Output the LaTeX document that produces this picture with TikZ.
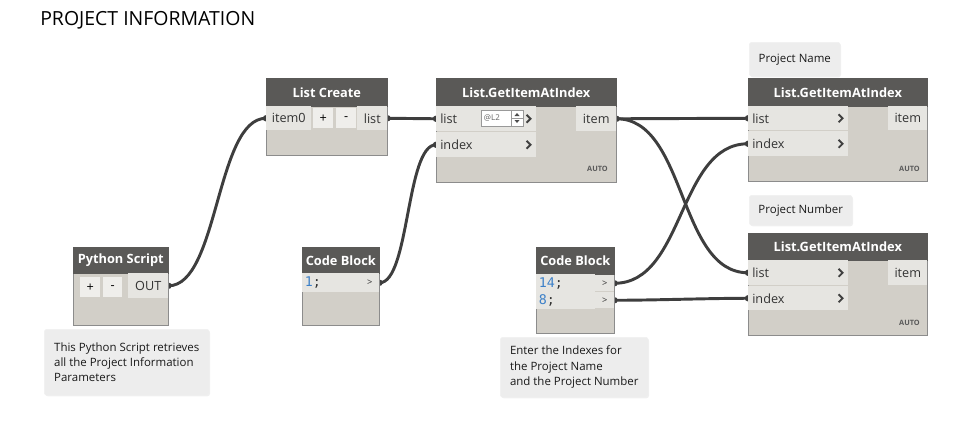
\documentclass[tikz,border=0pt]{standalone}
\usepackage{fontspec}
\setmainfont{Open Sans}
\setmonofont{DejaVu Sans Mono}
\usetikzlibrary{positioning,calc,backgrounds,shadows}

\definecolor{headc}{HTML}{5A5957}
\definecolor{bodyc}{HTML}{D2CFC8}
\definecolor{cellc}{HTML}{E6E5E1}
\definecolor{btnc}{HTML}{EFEEEB}
\definecolor{wirec}{HTML}{3E3E3E}
\definecolor{notec}{HTML}{EDEDED}
\definecolor{numc}{HTML}{3C80C8}

\def\pxu{0.75pt}
\newcommand{\dynhead}{\fontsize{9.6}{11}\selectfont\bfseries}
\newcommand{\dynport}{\fontsize{9.5}{11}\selectfont}
\newcommand{\dynnote}{\fontsize{8.6}{11.5}\selectfont}
\newcommand{\dyncode}{\ttfamily\fontsize{10}{12.75}\selectfont}

\tikzset{
  body/.style={fill=bodyc, draw=black!45, line width=0.4pt, anchor=north west, inner sep=0pt},
  head/.style={fill=headc, draw=headc, text=white, anchor=north west, inner sep=0pt, font=\dynhead},
  port/.style={fill=cellc, anchor=north west, inner sep=0pt, font=\dynport, text=black!80},
  btn/.style={fill=btnc, anchor=north west, inner sep=0pt, minimum width=20*\pxu, minimum height=20*\pxu, font=\dynport},
  ptext/.style={anchor=west, inner sep=0pt, font=\dynport, text=black!80},
  chev/.style={draw=black!75, line width=1.4pt},
  note/.style={fill=notec, draw=black!6, rounded corners=2pt, anchor=north west, align=left,
    inner sep=0pt, font=\dynnote, text=black!90,
    drop shadow={opacity=0.12, shadow xshift=0.6pt, shadow yshift=-0.8pt}},
  autotag/.style={anchor=east, inner sep=0pt, font=\bfseries\fontsize{5.5}{6}\selectfont, text=black!65},
  wire/.style={draw=wirec, line width=2.2pt}
}

% input row of a GetItemAtIndex node: name, x, y, height, text
\newcommand{\inport}[5]{%
  \node[port, minimum width=100*\pxu, minimum height=#4*\pxu] (#1) at (#2,#3) {};
  \node[ptext, xshift=3pt] (#1-t) at (#1.west) {#5};
  \draw[chev] ($(#1.east)+(-10,-4)$) -- ++(4,4) -- ++(-4,4);
}

\begin{document}
\begin{tikzpicture}[x=0.75pt,y=-0.75pt]
\useasboundingbox (0,0) rectangle (962,422);

\node[anchor=west, inner sep=0pt, font=\fontsize{14.6}{16}\selectfont] (title) at (40,20) {PROJECT INFORMATION};

% Python Script
\node[body, minimum width=95*\pxu, minimum height=78*\pxu] (py) at (73,247) {};
\node[head, minimum width=95*\pxu, minimum height=26*\pxu] (py-h) at (py.north west) {Python Script};
\node[btn] (py-add) at (80,277) {+};
\node[btn, minimum width=19*\pxu] (py-rem) at (103,277) {-};
\node[port, minimum width=40*\pxu, minimum height=25*\pxu] (py-out) at (128,273) {OUT};
\node[note, minimum width=165*\pxu, minimum height=66*\pxu] (py-note) at (44,329)
  {This Python Script retrieves\\all the Project Information\\Parameters};

% List Create
\node[body, minimum width=121*\pxu, minimum height=77*\pxu] (lc) at (266,78) {};
\node[head, minimum width=121*\pxu, minimum height=28*\pxu] (lc-h) at (lc.north west) {List Create};
\node[port, minimum width=45*\pxu, minimum height=24*\pxu] (lc-in) at (266,106) {item0};
\node[btn] (lc-add) at (313,108) {+};
\node[btn] (lc-rem) at (336,108) {-};
\node[port, minimum width=30*\pxu, minimum height=24*\pxu] (lc-out) at (357,106) {list};

% Code Block 1
\node[body, minimum width=77*\pxu, minimum height=78*\pxu] (cb1) at (302,247) {};
\node[head, minimum width=77*\pxu, minimum height=26*\pxu] (cb1-h) at (cb1.north west) {Code Block};
\node[port, minimum width=58*\pxu, minimum height=19*\pxu] (cb1-code) at (302,273) {};
\node[ptext, font=\dyncode, xshift=2pt] (cb1-t) at (cb1-code.west) {\textcolor{numc}{1};};
\node[port, minimum width=19*\pxu, minimum height=19*\pxu, font=\fontsize{7}{8}\selectfont] (cb1-out) at (360,273) {>};

% middle GetItemAtIndex
\node[body, minimum width=180*\pxu, minimum height=104*\pxu] (gi) at (436,78) {};
\node[head, minimum width=180*\pxu, minimum height=28*\pxu] (gi-h) at (gi.north west) {List.GetItemAtIndex};
\inport{gi-list}{436}{106}{25}{list}
\inport{gi-idx}{436}{132}{25}{index}
\node[port, minimum width=40*\pxu, minimum height=25*\pxu] (gi-out) at (576,106) {item};
\node[autotag] (gi-auto) at (608,169) {AUTO};
\node[anchor=north west, draw=black!40, fill=white, minimum width=42*\pxu, minimum height=16*\pxu, inner sep=0pt] (gi-lvl) at (481,110) {};
\node[anchor=west, inner sep=0pt, xshift=2pt, font=\fontsize{6}{7}\selectfont, text=black!60] (gi-lvl-t) at (gi-lvl.west) {@L2};
\draw[black!40] (511,110) -- (511,126) (511,118) -- (523,118);
\fill[black!70] (514.5,116) -- (519.5,116) -- (517,113) -- cycle (514.5,120) -- (519.5,120) -- (517,123) -- cycle;

% Code Block 2
\node[body, minimum width=78*\pxu, minimum height=86*\pxu] (cb2) at (536,247) {};
\node[head, minimum width=78*\pxu, minimum height=27*\pxu] (cb2-h) at (cb2.north west) {Code Block};
\node[port, minimum width=59*\pxu, minimum height=35*\pxu] (cb2-code) at (536,274) {};
\node[ptext, font=\dyncode, align=left, xshift=2pt] (cb2-t) at (cb2-code.west)
  {\textcolor{numc}{14};\\\textcolor{numc}{8};};
\node[port, minimum width=19*\pxu, minimum height=16*\pxu, font=\fontsize{7}{8}\selectfont] (cb2-o1) at (595,275) {>};
\node[port, minimum width=19*\pxu, minimum height=16*\pxu, font=\fontsize{7}{8}\selectfont] (cb2-o2) at (595,292) {>};
\node[note, minimum width=148*\pxu, minimum height=60*\pxu] (cb2-note) at (500,337)
  {Enter the Indexes for\\the Project Name\\and the Project Number};

% Project Name
\node[note, minimum width=91*\pxu, minimum height=34*\pxu] (gn-note) at (749,42) {Project Name};
\node[body, minimum width=179*\pxu, minimum height=103*\pxu] (gn) at (748,78) {};
\node[head, minimum width=179*\pxu, minimum height=28*\pxu] (gn-h) at (gn.north west) {List.GetItemAtIndex};
\inport{gn-list}{748}{106}{24}{list}
\inport{gn-idx}{748}{131}{25}{index}
\node[port, minimum width=39*\pxu, minimum height=24*\pxu] (gn-out) at (888,106) {item};
\node[autotag] (gn-auto) at (920,169) {AUTO};

% Project Number
\node[note, minimum width=103*\pxu, minimum height=30*\pxu] (gb-note) at (749,195) {Project Number};
\node[body, minimum width=179*\pxu, minimum height=102*\pxu] (gb) at (748,233) {};
\node[head, minimum width=179*\pxu, minimum height=27*\pxu] (gb-h) at (gb.north west) {List.GetItemAtIndex};
\inport{gb-list}{748}{260}{25}{list}
\inport{gb-idx}{748}{286}{24}{index}
\node[port, minimum width=39*\pxu, minimum height=25*\pxu] (gb-out) at (888,260) {item};
\node[autotag] (gb-auto) at (920,323) {AUTO};

% wires
\begin{scope}[on background layer]
\draw[wire] (py-out.east) .. controls +(50,0) and +(-50,0) .. (lc-in.west);
\draw[wire] (lc-out.east) -- (gi-list.west);
\draw[wire] (cb1-out.east) .. controls +(30,0) and +(-30,0) .. (gi-idx.west);
\draw[wire] (gi-out.east) -- (gn-list.west);
\draw[wire] (gi-out.east) .. controls +(70,0) and +(-70,0) .. (gb-list.west);
\draw[wire] (cb2-o1.east) .. controls +(70,0) and +(-70,0) .. (gn-idx.west);
\draw[wire] (cb2-o2.east) .. controls +(40,0) and +(-40,0) .. (gb-idx.west);
\foreach \p in {py-out.east,lc-in.west,lc-out.east,gi-list.west,gi-idx.west,cb1-out.east,gi-out.east,
  cb2-o1.east,cb2-o2.east,gn-list.west,gn-idx.west,gb-list.west,gb-idx.west}
  \fill[wirec] (\p) circle (3.2);
\end{scope}
\end{tikzpicture}
\end{document}
